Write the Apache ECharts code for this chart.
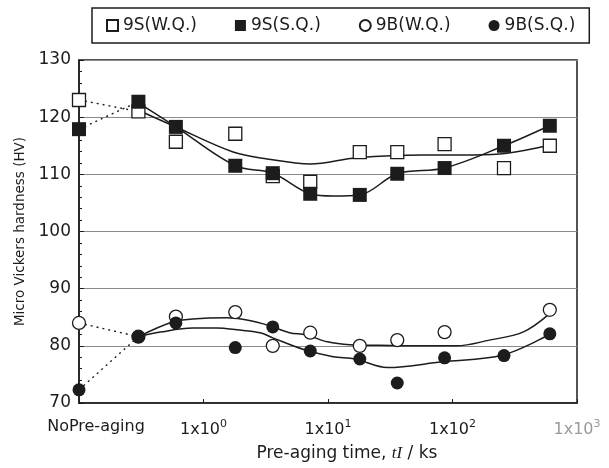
<!DOCTYPE html>
<html>
<head>
<meta charset="utf-8">
<script src="https://cdn.jsdelivr.net/npm/echarts@6/dist/echarts.min.js"></script>
<style>
  html, body { margin: 0; padding: 0; background: #fff; }
  #chart { width: 609px; height: 468px; }
</style>
</head>
<body>
<div id="chart"></div>
<script>
// pre-aging time in ks, 0.1 is where "NoPre-aging" is plotted
const agingTimes = [0.1, 0.3, 0.6, 1.8, 3.6, 7.2, 18, 36, 86.4, 259.2, 604.8];

// measured hardness (HV)
const hv9SWQ = [123.0, 121.0, 115.7, 117.1, 109.7, 108.7, 113.9, 113.9, 115.3, 111.1, 115.0];
const hv9SSQ = [117.9, 122.7, 118.3, 111.5, 110.2, 106.6, 106.4, 110.1, 111.1, 115.0, 118.5];
const hv9BWQ = [84.0, 81.6, 85.1, 85.9, 80.0, 82.3, 80.0, 81.0, 82.4, null, 86.3];
const hv9BSQ = [72.3, 81.6, 84.0, 79.7, 83.3, 79.1, 77.7, 73.5, 77.9, 78.3, 82.1];

// fitted curves: [time ks, HV]
const fit9SWQ = [[0.3, 121.2], [0.57, 118.5], [1.73, 113.9], [3.24, 112.7], [7.2, 111.8],
  [17, 112.9], [58, 113.4], [146, 113.4], [274, 113.7], [600, 115.1]];
const fit9SSQ = [[0.3, 122.5], [0.6, 118.3], [1.8, 111.5], [3.6, 110.2], [7.2, 106.6],
  [11, 106.2], [18, 106.4], [36, 110.1], [86.4, 111.1], [259.2, 115.0], [600, 118.5]];
const fit9BWQ = [[0.3, 81.6], [0.57, 84.2], [0.82, 84.7], [1.54, 84.9], [2.23, 84.5],
  [3.4, 83.5], [4.9, 82.3], [6.7, 81.9], [9.9, 80.7], [15, 80.2], [26, 80.1], [60, 80.0],
  [108, 80.0], [198, 81.0], [368, 82.4], [600, 85.6]];
const fit9BSQ = [[0.3, 81.6], [0.45, 82.4], [0.82, 83.1], [1.28, 83.1], [1.86, 82.8],
  [2.85, 82.3], [3.6, 81.4], [6.5, 79.3], [11, 78.1], [16.5, 77.7], [30, 76.2],
  [82, 77.2], [254, 78.4], [600, 82.0]];

const names = ['9S(W.Q.)', '9S(S.Q.)', '9B(W.Q.)', '9B(S.Q.)'];

const INK = '#1c1c1c';
const FONT = 'DejaVu Sans';

function points(ys) {
  return agingTimes.map((t, i) => [t, ys[i]]).filter((p) => p[1] != null);
}

function connector(ys) {
  return {
    type: 'line',
    data: [[agingTimes[0], ys[0]], [agingTimes[1], ys[1]]],
    symbol: 'none',
    silent: true,
    z: 2,
    lineStyle: { color: INK, width: 1.4, type: [2, 4] },
  };
}

function fit(data) {
  return {
    type: 'line',
    data: data,
    smooth: 0.35,
    symbol: 'none',
    silent: true,
    z: 2,
    lineStyle: { color: INK, width: 1.5 },
  };
}

function marks(name, ys, symbol, size, open, z) {
  return {
    name: name,
    type: 'scatter',
    data: points(ys),
    symbol: symbol,
    symbolSize: size,
    z: z,
    itemStyle: open
      ? { color: '#fff', borderColor: INK, borderWidth: 1.3, opacity: 1 }
      : { color: INK, borderColor: INK, borderWidth: 0, opacity: 1 },
  };
}

const chart = echarts.init(document.getElementById('chart'));

chart.setOption({
  animation: false,
  backgroundColor: '#fff',
  legend: {
    data: names,
    top: 8,
    left: 92,
    itemWidth: 11,
    itemHeight: 11,
    itemGap: 38,
    padding: [9, 14],
    borderColor: INK,
    borderWidth: 1.5,
    textStyle: { fontFamily: FONT, fontSize: 17, color: INK },
  },
  grid: {
    left: 79,
    right: 32,
    top: 60,
    bottom: 65,
    show: true,
    borderColor: INK,
    borderWidth: 1.5,
  },
  xAxis: {
    type: 'log',
    logBase: 10,
    min: 0.1,
    max: 1000,
    name: 'Pre-aging time, {i|tI} / ks',
    nameLocation: 'middle',
    nameGap: 42,
    nameTextStyle: {
      fontFamily: FONT,
      fontSize: 17,
      color: INK,
      padding: [0, 0, 0, 38],
      rich: {
        i: { fontFamily: 'Liberation Serif', fontStyle: 'italic', fontSize: 17, color: INK },
      },
    },
    axisLine: { lineStyle: { color: INK, width: 1.5 } },
    axisTick: { inside: true, length: 4, lineStyle: { color: INK } },
    splitLine: { show: false },
    axisLabel: {
      margin: 16,
      fontFamily: FONT,
      fontSize: 16,
      color: INK,
      formatter: function (v) {
        const e = Math.round(Math.log10(v));
        if (e < 0) return '{np|NoPre-aging}';
        if (e === 3) return '{f|1x10}{fs|3}';
        return '{n|1x10}{s|' + e + '}';
      },
      rich: {
        np: { fontFamily: FONT, fontSize: 16, color: INK, padding: [0, 0, 0, 34] },
        n: { fontFamily: FONT, fontSize: 16, color: INK },
        s: { fontFamily: FONT, fontSize: 11, color: INK, padding: [0, 0, 10, 0] },
        f: { fontFamily: FONT, fontSize: 16, color: '#9a9a9a' },
        fs: { fontFamily: FONT, fontSize: 11, color: '#9a9a9a', padding: [0, 0, 10, 0] },
      },
    },
  },
  yAxis: {
    type: 'value',
    min: 70,
    max: 130,
    interval: 10,
    name: 'Micro Vickers hardness (HV)',
    nameLocation: 'middle',
    nameRotate: 90,
    nameGap: 48,
    nameTextStyle: { fontFamily: FONT, fontSize: 13.5, color: INK },
    axisLine: { show: true, lineStyle: { color: INK, width: 1.5 } },
    axisTick: { show: true, inside: true, length: 5, lineStyle: { color: INK } },
    minorTick: { show: true, splitNumber: 5, length: 3, lineStyle: { color: INK } },
    splitLine: { lineStyle: { color: '#8a8a8a', width: 1 } },
    axisLabel: { margin: 8, fontFamily: FONT, fontSize: 17, color: INK },
  },
  series: [
    fit(fit9SWQ),
    fit(fit9SSQ),
    fit(fit9BWQ),
    fit(fit9BSQ),
    connector(hv9SWQ),
    connector(hv9SSQ),
    connector(hv9BWQ),
    connector(hv9BSQ),
    marks(names[0], hv9SWQ, 'rect', 13, true, 3),
    marks(names[1], hv9SSQ, 'rect', 14, false, 4),
    marks(names[2], hv9BWQ, 'circle', 13, true, 3),
    marks(names[3], hv9BSQ, 'circle', 13, false, 4),
  ],
});
</script>
</body>
</html>
